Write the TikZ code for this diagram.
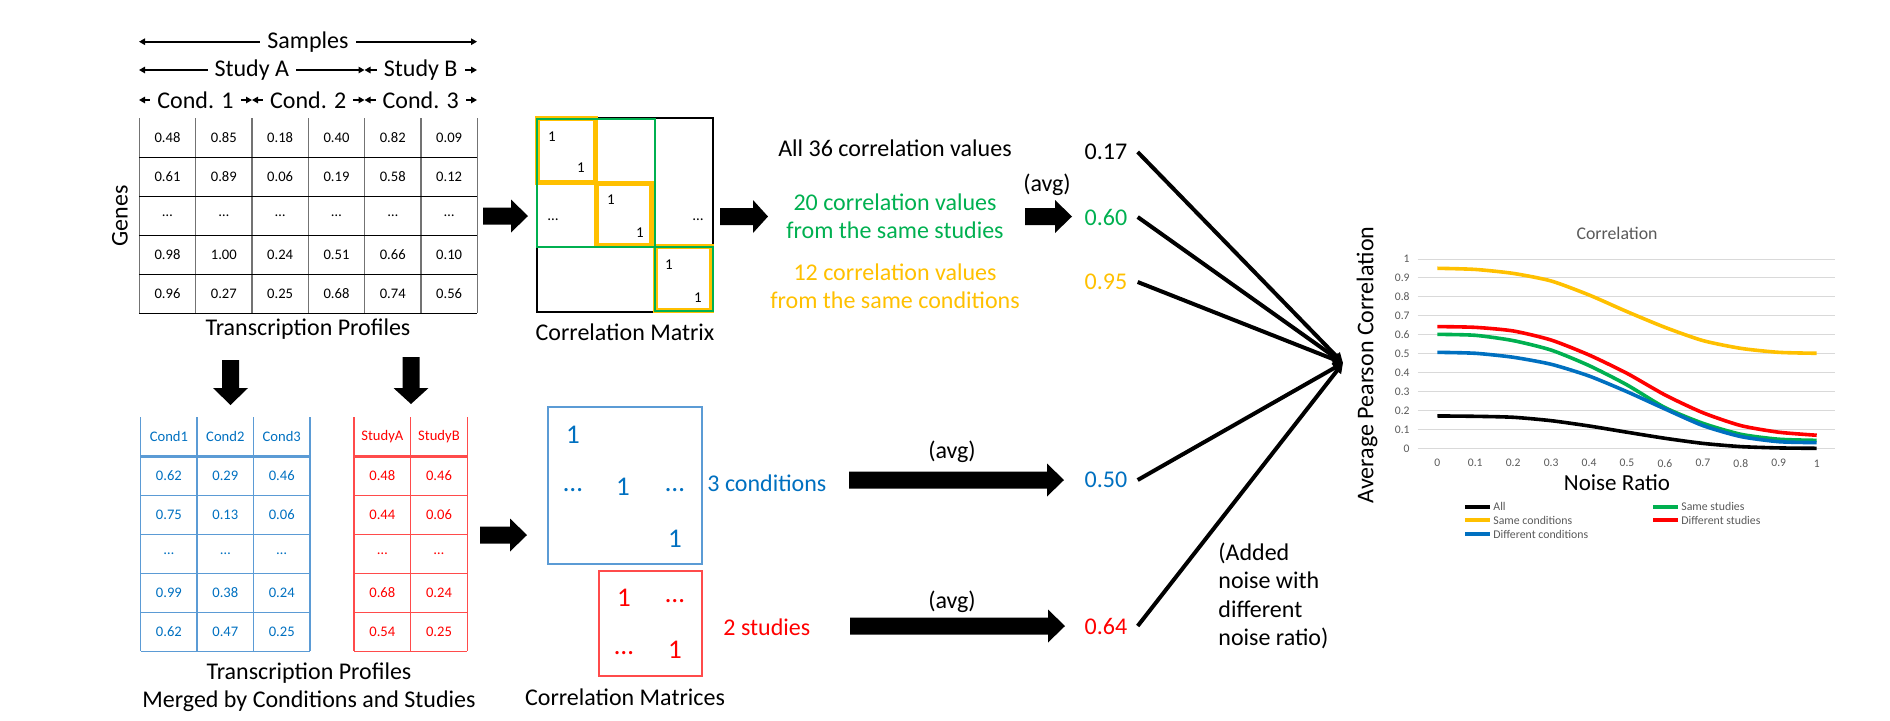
\documentclass[tikz,border=0pt]{standalone}
\usepackage{fontspec}
\setmainfont{Carlito}
\usetikzlibrary{arrows.meta}
\definecolor{cgreen}{HTML}{00B050}
\definecolor{cyel}{HTML}{FFC000}
\definecolor{cblue}{HTML}{0070C0}
\definecolor{cred}{HTML}{FF0000}
\definecolor{lblue}{HTML}{5B9BD5}
\definecolor{lred}{HTML}{FF4B4B}
\definecolor{cgray}{HTML}{595959}
\definecolor{cgrid}{HTML}{D9D9D9}
\newcommand\blkH[4]{\fill (#1,#4-8.5) -- (#2,#4-8.5) -- (#2,#4-16.5) -- (#3,#4) -- (#2,#4+16.5) -- (#2,#4+8.5) -- (#1,#4+8.5) -- cycle;}
\newcommand\blkV[4]{\fill (#1-8.5,#2) -- (#1+8.5,#2) -- (#1+8.5,#3) -- (#1+17.5,#3) -- (#1,#4) -- (#1-17.5,#3) -- (#1-8.5,#3) -- cycle;}
\begin{document}
\begin{tikzpicture}[x=0.5pt,y=-0.5pt,
  lbl/.style={font=\fontsize{12pt}{14.2pt}\selectfont, inner sep=1pt},
  cell/.style={font=\fontsize{7.3pt}{9pt}\selectfont, inner sep=0pt},
  small1/.style={font=\fontsize{7.5pt}{9pt}\selectfont, inner sep=0pt},
  big1/.style={font=\fontsize{13.5pt}{16pt}\selectfont, inner sep=0pt},
  hdr/.style={line width=1pt, {Triangle[length=3pt,width=3.2pt]}-{Triangle[length=3pt,width=3.2pt]}},
  hlab/.style={fill=white, inner xsep=3.5pt, inner ysep=1pt, font=\fontsize{12pt}{14pt}\selectfont},
  vline/.style={draw=black!55, line width=0.6pt},
  hline/.style={draw=black, line width=0.75pt},
  conn/.style={line width=2pt, -{Triangle[length=5pt,width=5pt]}},
  curve/.style={line width=1.8pt, smooth, tension=0.4},
  tick/.style={font=\fontsize{5.8pt}{7pt}\selectfont, text=cgray, inner sep=0pt},
  leg/.style={font=\fontsize{5.9pt}{7pt}\selectfont, text=cgray, inner sep=0pt, anchor=west},
  legline/.style={line width=1.8pt},
]
\path[use as bounding box] (0,0) rectangle (1890,720);

% ---------- header arrows ----------
\coordinate (s0) at (139,41.7); \coordinate (s1) at (477,41.7);
\draw[hdr] (s0) -- node[hlab] (lsam) {Samples} (s1);
\coordinate (sa0) at (139,70); \coordinate (sa1) at (364.5,70); \coordinate (sb1) at (477,70);
\draw[hdr] (sa0) -- node[hlab] (lsa) {Study A} (sa1);
\draw[hdr] (sa1) -- node[hlab] (lsb) {Study B} (sb1);
\coordinate (k0) at (139,100); \coordinate (k1) at (252,100); \coordinate (k2) at (364.5,100); \coordinate (k3) at (477,100);
\draw[hdr] (k0) -- node[hlab] (lc1) {Cond. 1} (k1);
\draw[hdr] (k1) -- node[hlab] (lc2) {Cond. 2} (k2);
\draw[hdr] (k2) -- node[hlab] (lc3) {Cond. 3} (k3);

% ---------- top table ----------
\foreach \i in {0,...,6} \draw[vline] ({139.3+56.33*\i},118.3) -- ({139.3+56.33*\i},313.3);
\foreach \j in {1,...,5} \draw[hline] (139.3,{118.3+39*\j}) -- (477.3,{118.3+39*\j});
\foreach \r/\vals in {1/{0.48,0.85,0.18,0.40,0.82,0.09},2/{0.61,0.89,0.06,0.19,0.58,0.12},3/{…,…,…,…,…,…},4/{0.98,1.00,0.24,0.51,0.66,0.10},5/{0.96,0.27,0.25,0.68,0.74,0.56}}{
  \foreach \v [count=\c] in \vals {
    \node[cell] (t\r-\c) at ({139.3+56.33*(\c-0.5)},{118.3+39*(\r-0.5)}) {\v};
  }
}
\node[lbl, rotate=90] (genes) at (120,216) {Genes};
\node[lbl] (tp1) at (308,329) {Transcription Profiles};

% ---------- block arrows ----------
\blkH{483}{511}{528}{216}
\blkH{720}{753}{768}{216.5}
\blkH{1025}{1055}{1072}{216.5}
\blkV{230.5}{360}{388}{405}
\blkV{411}{357}{388}{404}
\blkH{480}{510}{527}{535}
\blkH{849}{1047}{1064}{480}
\blkH{850}{1048}{1065}{626}

% ---------- correlation matrix ----------
\draw[black, line width=0.7pt] (537,118) rectangle (713,312);
\draw[cyel, line width=2.5pt] (537,118.5) rectangle (595,182.7);
\draw[cyel, line width=2.5pt] (596.7,183) rectangle (651.7,245.3);
\draw[cyel, line width=2.5pt] (655.3,246.3) rectangle (711.8,310.3);
\draw[cgreen, line width=1pt] (537,119.3) rectangle (655,246.7);
\draw[cgreen, line width=1pt] (655,246.7) rectangle (713.3,311);
\node[small1] (m11) at (552,137) {1};
\node[small1] (m12) at (581,168) {1};
\node[small1] (m21) at (611,200) {1};
\node[small1] (m22) at (640,233) {1};
\node[small1] (m31) at (669,265) {1};
\node[small1] (m32) at (698,298) {1};
\node[small1] (md1) at (553,220) {…};
\node[small1] (md2) at (698,220) {…};
\node[lbl] (cmlab) at (625,332) {Correlation Matrix};

% ---------- texts top right ----------
\node[lbl] (all36) at (895,148) {All 36 correlation values};
\node[lbl, text=cgreen, align=center] (samest) at (895,216) {20 correlation values\\from the same studies};
\node[lbl, text=cyel, align=center] (sameco) at (895,286) {12 correlation values\\from the same conditions};
\node[lbl] (avg1) at (1047,185) {(avg)};

% ---------- values and connectors ----------
\node[lbl] (v17) at (1106,152) {0.17};
\node[lbl, text=cgreen] (v60) at (1106,217) {0.60};
\node[lbl, text=cyel] (v95) at (1106,282) {0.95};
\node[lbl, text=cblue] (v50) at (1106,480) {0.50};
\node[lbl, text=cred] (v64) at (1106,626) {0.64};
\coordinate (conv) at (1343,363);
\foreach \n in {v17,v60,v95,v50,v64} \draw[conn] ([xshift=4pt]\n.east) -- (conv);
\node[lbl, align=left, anchor=west, inner sep=0pt] (noise) at (1218,596) {(Added\\noise with\\different\\noise ratio)};

% ---------- bottom tables ----------
\foreach \i in {0,...,3} \draw[lblue, line width=0.75pt] ({140.7+56.43*\i},417.3) -- ({140.7+56.43*\i},651);
\foreach \j in {2,...,6} \draw[lblue, line width=0.75pt] (140.7,{417.3+39*\j}) -- (310,{417.3+39*\j});
\draw[lblue, line width=1.3pt] (140.7,456.3) -- (310,456.3);
\foreach \r/\vals in {1/{Cond1,Cond2,Cond3},2/{0.62,0.29,0.46},3/{0.75,0.13,0.06},4/{…,…,…},5/{0.99,0.38,0.24},6/{0.62,0.47,0.25}}{
  \foreach \v [count=\c] in \vals {
    \node[cell, text=cblue] (b\r-\c) at ({140.7+56.43*(\c-0.5)},{417.3+39*(\r-0.5)}) {\v};
  }
}
\foreach \i in {0,...,2} \draw[lred, line width=0.75pt] ({354+56.65*\i},417.3) -- ({354+56.65*\i},651);
\foreach \j in {2,...,6} \draw[lred, line width=0.75pt] (354,{417.3+39*\j}) -- (467.3,{417.3+39*\j});
\draw[lred, line width=1.3pt] (354,456.3) -- (467.3,456.3);
\foreach \r/\vals in {1/{StudyA,StudyB},2/{0.48,0.46},3/{0.44,0.06},4/{…,…},5/{0.68,0.24},6/{0.54,0.25}}{
  \foreach \v [count=\c] in \vals {
    \node[cell, text=cred] (r\r-\c) at ({354+56.65*(\c-0.5)},{417.3+39*(\r-0.5)}) {\v};
  }
}
\node[lbl, align=center] (tp2) at (309,687) {Transcription Profiles\\Merged by Conditions and Studies};

% ---------- correlation matrices ----------
\draw[lblue, line width=0.8pt] (548,407) rectangle (702,564);
\node[big1, text=cblue] (q11) at (573,435) {1};
\node[big1, text=cblue] (qd1) at (573,490) {…};
\node[big1, text=cblue] (q22) at (623,487) {1};
\node[big1, text=cblue] (qd2) at (675,490) {…};
\node[big1, text=cblue] (q33) at (675,539) {1};
\draw[lred, line width=0.8pt] (599,571) rectangle (702,676);
\node[big1, text=cred] (p11) at (624,598) {1};
\node[big1, text=cred] (pd1) at (675,601) {…};
\node[big1, text=cred] (pd2) at (624,653) {…};
\node[big1, text=cred] (p22) at (675,650) {1};
\node[lbl] (cmslab) at (625,697) {Correlation Matrices};
\node[lbl, text=cblue, anchor=west] (cond3) at (705,483) {3 conditions};
\node[lbl, text=cred, anchor=west] (stud2) at (721,627) {2 studies};
\node[lbl] (avg2) at (952,452) {(avg)};
\node[lbl] (avg3) at (952,602) {(avg)};

% ---------- chart ----------
\node[font=\fontsize{8.9pt}{10pt}\selectfont, text=cgray, inner sep=0pt] (ctitle) at (1617,233) {Correlation};
\begin{scope}[shift={(1437.3,448.3)}, x=189.7pt, y=94.65pt]
  \foreach \k in {0,...,10} \draw[cgrid, line width=0.5pt] (-0.051,\k/10) -- (1.048,\k/10);
  \foreach \k/\t in {0/0,1/0.1,2/0.2,3/0.3,4/0.4,5/0.5,6/0.6,7/0.7,8/0.8,9/0.9,10/1} {
    \node[tick, anchor=east] (yt\k) at (-0.072,\k/10) {\t};
    \node[tick] (xt\k) at (\k/10,-0.079) {\t};
  }
  \draw[curve, cyel] plot coordinates {(0,0.951) (0.1,0.945) (0.2,0.924) (0.3,0.884) (0.4,0.81) (0.5,0.722) (0.6,0.639) (0.7,0.569) (0.8,0.528) (0.9,0.507) (1,0.502)};
  \draw[curve, cred] plot coordinates {(0,0.643) (0.1,0.639) (0.2,0.62) (0.3,0.572) (0.4,0.493) (0.5,0.396) (0.6,0.282) (0.7,0.188) (0.8,0.12) (0.9,0.085) (1,0.069)};
  \draw[curve, cgreen] plot coordinates {(0,0.602) (0.1,0.597) (0.2,0.569) (0.3,0.519) (0.4,0.437) (0.5,0.335) (0.6,0.215) (0.7,0.132) (0.8,0.074) (0.9,0.048) (1,0.042)};
  \draw[curve, cblue] plot coordinates {(0,0.507) (0.1,0.502) (0.2,0.481) (0.3,0.444) (0.4,0.382) (0.5,0.299) (0.6,0.208) (0.7,0.12) (0.8,0.062) (0.9,0.035) (1,0.03)};
  \draw[curve, black] plot coordinates {(0,0.171) (0.1,0.169) (0.2,0.164) (0.3,0.146) (0.4,0.118) (0.5,0.085) (0.6,0.053) (0.7,0.026) (0.8,0.009) (0.9,0.002) (1,0)};
\end{scope}
\node[font=\fontsize{11.5pt}{13pt}\selectfont, inner sep=0pt] (xlab) at (1617,483) {Noise Ratio};
\node[lbl, rotate=90, inner sep=0pt] (ylab) at (1367,365) {Average Pearson Correlation};
% legend
\draw[legline, black] (1465,506.7) -- (1490,506.7); \node[leg] (lg1) at (1493,506.7) {All};
\draw[legline, cyel] (1465,520) -- (1490,520); \node[leg] (lg2) at (1493,520) {Same conditions};
\draw[legline, cblue] (1465,534) -- (1490,534); \node[leg] (lg3) at (1493,534) {Different conditions};
\draw[legline, cgreen] (1653,506.7) -- (1678,506.7); \node[leg] (lg4) at (1681,506.7) {Same studies};
\draw[legline, cred] (1653,520) -- (1678,520); \node[leg] (lg5) at (1681,520) {Different studies};
\end{tikzpicture}
\end{document}
